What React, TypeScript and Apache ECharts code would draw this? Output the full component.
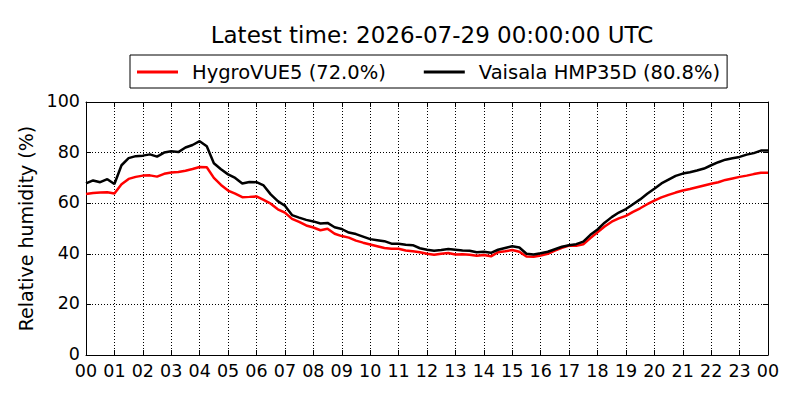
import React, { useEffect, useRef } from "react";
import * as echarts from "echarts";

const TITLE = "Latest time: 2026-07-29 00:00:00 UTC";
const Y_NAME = "Relative humidity (%)";

// sample times (hours since 00:00 UTC), every 15 minutes
const STEP_HOURS = 0.25;
const HOUR_TICKS = ["00","01","02","03","04","05","06","07","08","09","10","11","12","13","14","15","16","17","18","19","20","21","22","23","00"];

const HYGROVUE5 = [
  63.6, 64.0, 64.2, 64.3, 63.8, 67.5, 69.6, 70.4, 70.9, 71.0, 70.5, 71.6,
  72.1, 72.3, 72.8, 73.5, 74.3, 74.2, 70.0, 67.2, 65.0, 63.8, 62.4, 62.5,
  62.7, 61.3, 59.8, 57.6, 56.3, 53.8, 52.6, 51.2, 50.4, 49.3, 49.9, 47.9,
  47.0, 46.4, 45.2, 44.4, 43.7, 43.0, 42.3, 42.0, 42.0, 41.3, 41.0, 40.6,
  40.0, 39.6, 40.0, 40.3, 39.7, 39.8, 39.6, 39.2, 39.5, 39.0, 40.6, 41.0,
  41.5, 40.8, 38.9, 38.8, 39.3, 40.0, 41.3, 42.4, 43.3, 43.2, 43.8, 46.2,
  48.5, 50.8, 52.7, 54.0, 55.0, 56.6, 58.0, 59.6, 61.0, 62.3, 63.3, 64.2,
  65.0, 65.6, 66.3, 67.0, 67.7, 68.3, 69.2, 69.8, 70.4, 70.9, 71.5, 72.0,
  72.0,
];

const HMP35D = [
  67.8, 69.0, 68.3, 69.5, 67.6, 75.0, 77.8, 78.6, 78.8, 79.3, 78.4, 80.0,
  80.5, 80.2, 82.0, 83.0, 84.5, 82.5, 75.8, 73.4, 71.4, 70.0, 67.8, 68.4,
  68.3, 67.0, 63.5, 60.8, 59.0, 55.3, 54.3, 53.4, 52.8, 52.0, 52.2, 50.5,
  49.8, 48.4, 47.8, 46.8, 45.8, 45.4, 45.0, 44.0, 44.0, 43.6, 43.4, 42.2,
  41.6, 41.2, 41.5, 41.9, 41.6, 41.3, 41.2, 40.6, 40.8, 40.4, 41.6, 42.3,
  43.0, 42.5, 40.0, 39.7, 40.2, 40.8, 41.8, 42.8, 43.4, 43.8, 44.8, 47.5,
  49.6, 52.3, 54.5, 56.3, 57.7, 59.6, 61.5, 63.7, 65.7, 67.8, 69.3, 70.8,
  71.7, 72.2, 72.9, 73.7, 75.0, 76.2, 77.2, 77.8, 78.3, 79.2, 79.8, 80.8,
  80.8,
];

const FONT = "DejaVu Sans";

function pairs(values: number[]) {
  return values.map((v, i) => [i * STEP_HOURS, v]);
}

export default function App() {
  const ref = useRef<HTMLDivElement>(null);

  useEffect(() => {
    if (!ref.current) return;
    const chart = echarts.init(ref.current, undefined, { renderer: "svg" });
    const redName = `HygroVUE5 (${HYGROVUE5[HYGROVUE5.length - 1].toFixed(1)}%)`;
    const blackName = `Vaisala HMP35D (${HMP35D[HMP35D.length - 1].toFixed(1)}%)`;
    const tick = { show: true, inside: true, length: 5, lineStyle: { color: "#000", width: 1 } };
    const line = { show: true, onZero: false, lineStyle: { color: "#000", width: 1 } };
    const grid = { show: true, lineStyle: { color: "#000", width: 1, type: [1, 2] as number[] } };
    chart.setOption({
      animation: false,
      backgroundColor: "#fff",
      textStyle: { fontFamily: FONT },
      title: {
        text: TITLE,
        left: 427,
        textAlign: "center",
        top: 18,
        textStyle: { fontFamily: FONT, fontSize: 23, fontWeight: "normal", color: "#000" },
      },
      legend: {
        left: 130,
        top: 55,
        padding: [7, 7, 6, 7],
        borderColor: "#000",
        borderWidth: 1,
        itemWidth: 41,
        itemHeight: 3,
        itemGap: 38,
        icon: "rect",
        textStyle: { fontFamily: FONT, fontSize: 19.5, color: "#000", padding: [0, 0, 0, 9] },
        data: [redName, blackName],
      },
      grid: { left: 86, right: 32, top: 102, bottom: 45, containLabel: false },
      xAxis: [
        {
          type: "value",
          min: 0,
          max: 24,
          interval: 1,
          axisLine: line,
          axisTick: tick,
          splitLine: grid,
          axisLabel: {
            margin: 7,
            fontFamily: FONT,
            fontSize: 17.5,
            color: "#000",
            formatter: (v: number) => HOUR_TICKS[Math.round(v)],
          },
        },
        {
          type: "value",
          position: "top",
          min: 0,
          max: 24,
          interval: 1,
          axisLine: line,
          axisTick: tick,
          splitLine: { show: false },
          axisLabel: { show: false },
        },
      ],
      yAxis: [
        {
          type: "value",
          min: 0,
          max: 100,
          interval: 20,
          axisLine: line,
          axisTick: tick,
          splitLine: grid,
          name: Y_NAME,
          nameLocation: "middle",
          nameGap: 45,
          nameTextStyle: { fontFamily: FONT, fontSize: 19, color: "#000" },
          axisLabel: { margin: 6, fontFamily: FONT, fontSize: 17.5, color: "#000", verticalAlign: "bottom", lineHeight: 14, padding: [0, 0, -6, 0] },
        },
        {
          type: "value",
          position: "right",
          min: 0,
          max: 100,
          interval: 20,
          axisLine: line,
          axisTick: tick,
          splitLine: { show: false },
          axisLabel: { show: false },
        },
      ],
      series: [
        {
          name: redName,
          type: "line",
          data: pairs(HYGROVUE5),
          showSymbol: false,
          color: "#ff0000",
          lineStyle: { color: "#ff0000", width: 2.5 },
        },
        {
          name: blackName,
          type: "line",
          data: pairs(HMP35D),
          showSymbol: false,
          color: "#000000",
          lineStyle: { color: "#000000", width: 2.5 },
        },
      ],
    });
    return () => chart.dispose();
  }, []);

  return (
    <div
      ref={ref}
      style={{ position: "fixed", left: 0, top: 0, width: 800, height: 400, background: "#fff" }}
    />
  );
}
